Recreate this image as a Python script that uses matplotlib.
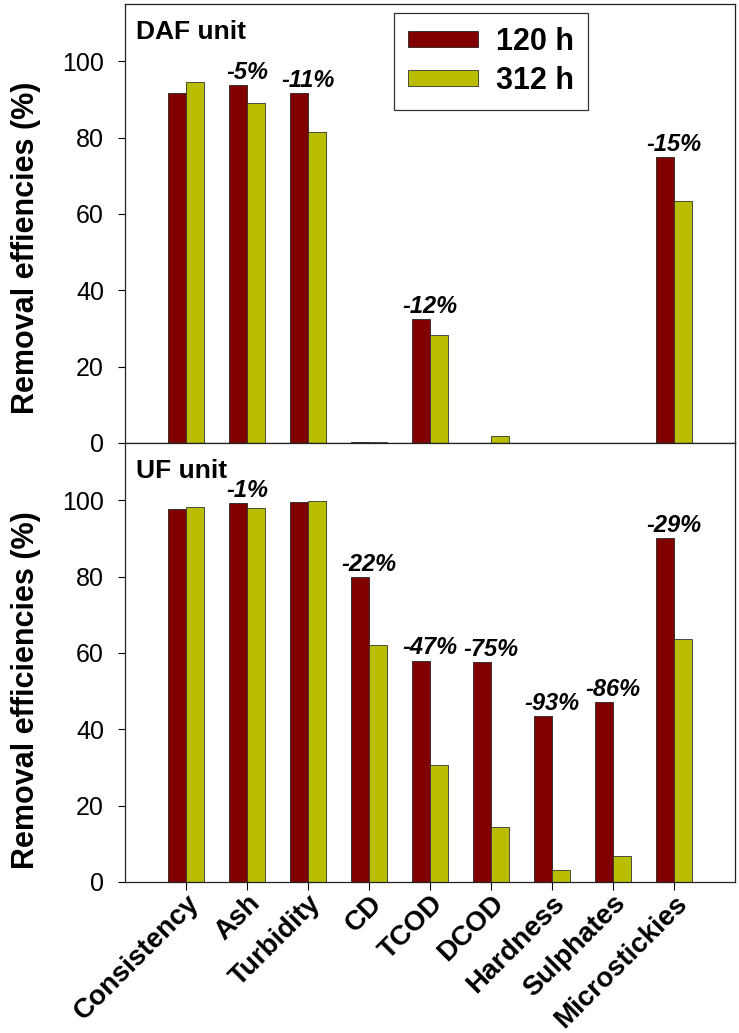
import matplotlib
matplotlib.use("Agg")
import matplotlib.pyplot as plt
import numpy as np

plt.rcParams['font.family'] = ['Liberation Sans', 'DejaVu Sans']

categories = ['Consistency', 'Ash', 'Turbidity', 'CD', 'TCOD', 'DCOD',
              'Hardness', 'Sulphates', 'Microstickies']

# DAF unit
daf_120 = [91.7, 93.8, 91.7, 0.35, 32.4, 0.0, 0.0, 0.0, 75.0]
daf_312 = [94.6, 89.1, 81.5, 0.2, 28.4, 1.9, 0.0, 0.0, 63.4]
daf_notes = ['', '-5%', '-11%', '', '-12%', '', '', '', '-15%']

# UF unit
uf_120 = [97.7, 99.2, 99.5, 80.0, 58.0, 57.7, 43.5, 47.1, 90.1]
uf_312 = [98.2, 98.0, 99.8, 62.1, 30.6, 14.3, 3.1, 6.7, 63.6]
uf_notes = ['', '-1%', '', '-22%', '-47%', '-75%', '-93%', '-86%', '-29%']

red = '#800000'
yel = '#b9bf00'
w = 0.3
x = np.arange(len(categories))

fig = plt.figure(figsize=(7.39, 10.33), dpi=100)
ax1 = fig.add_axes([0.169, 0.5712, 0.8254, 0.4249])
ax2 = fig.add_axes([0.169, 0.1462, 0.8254, 0.4249])


def panel(ax, v120, v312, notes, title, ylabel, ly):
    ax.bar(x - w / 2, v120, w, color=red, edgecolor='#222222', linewidth=0.6, label='120 h')
    ax.bar(x + w / 2, v312, w, color=yel, edgecolor='#333333', linewidth=0.6, label='312 h')
    for i, t in enumerate(notes):
        if t:
            ax.text(x[i], max(v120[i], v312[i]) + 1.6, t, ha='center', va='baseline',
                    fontsize=17, fontweight='bold', fontstyle='italic')
    ax.set_xlim(-1, 9)
    ax.set_ylim(0, 115)
    ax.set_yticks([0, 20, 40, 60, 80, 100])
    ax.tick_params(axis='y', direction='out', length=5, width=0.8, labelsize=18, pad=10)
    ax.set_ylabel(ylabel, fontsize=22, fontweight='bold')
    ax.yaxis.set_label_coords(-0.138, ly)
    ax.text(0.018, 0.964, title, transform=ax.transAxes, ha='left', va='top',
            fontsize=19, fontweight='bold')
    for s in ax.spines.values():
        s.set_linewidth(0.9)
        s.set_color('#222222')


panel(ax1, daf_120, daf_312, daf_notes, 'DAF unit', 'Removal effiencies (%)', 0.444)
panel(ax2, uf_120, uf_312, uf_notes, 'UF unit', 'Removal efficiencies (%)', 0.437)

ax1.set_xticks([])
ax2.set_xticks(x)
ax2.set_xticklabels(categories, rotation=45, ha='right', rotation_mode='anchor',
                    fontsize=20, fontweight='bold')
ax2.tick_params(axis='x', direction='out', length=6, width=0.8, pad=0)

leg = ax1.legend(loc='upper left', bbox_to_anchor=(0.441, 0.9795), borderaxespad=0,
                 prop={'size': 22, 'weight': 'bold'},
                 handlelength=2.3, handleheight=0.42, handletextpad=0.6,
                 labelspacing=0.3, borderpad=0.45, fancybox=False, framealpha=1)
leg.get_frame().set_edgecolor('#333333')
leg.get_frame().set_linewidth(0.9)

fig.savefig('out.png', dpi=100)
